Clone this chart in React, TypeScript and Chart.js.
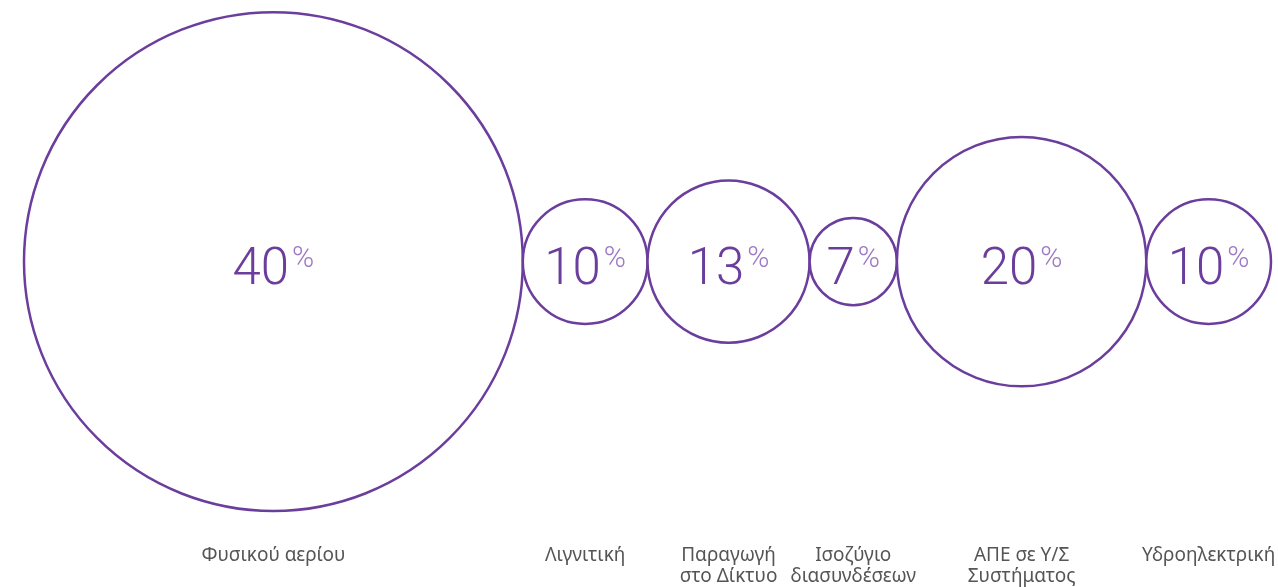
import React, { useEffect, useRef } from "react";
import { Chart, registerables } from "chart.js";

Chart.register(...registerables);

// Data
const categories: string[][] = [
  ["Φυσικού αερίου"],
  ["Λιγνιτική"],
  ["Παραγωγή", "στο Δίκτυο"],
  ["Ισοζύγιο", "διασυνδέσεων"],
  ["ΑΠΕ σε Υ/Σ", "Συστήματος"],
  ["Υδροηλεκτρική"],
];
const shares: number[] = [40, 10, 13, 7, 20, 10];

const PURPLE = "#6b3d9c";
const PURPLE_LIGHT = "#9d78c4";
const NUM_FONT = "300 51px Roboto";
const PCT_FONT = "300 30px Roboto";

export default function App() {
  const canvasRef = useRef<HTMLCanvasElement | null>(null);

  useEffect(() => {
    if (!canvasRef.current) return;
    // bubbles sit side by side: each centre is the running total of diameters plus its own radius
    const centres: number[] = [];
    let acc = 0;
    shares.forEach((s) => {
      centres.push(acc + s);
      acc += 2 * s;
    });
    const total = acc;

    const pctPlugin = {
      id: "pctLabels",
      afterDatasetsDraw(chart: any) {
        const ctx = chart.ctx;
        const meta = chart.getDatasetMeta(0);
        ctx.save();
        meta.data.forEach((el: any, i: number) => {
          const num = String(shares[i]);
          ctx.font = NUM_FONT;
          const w1 = ctx.measureText(num).width;
          ctx.font = PCT_FONT;
          const w2 = ctx.measureText("%").width;
          const gap = 3;
          const start = el.x - (w1 + gap + w2) / 2;
          ctx.textAlign = "left";
          ctx.textBaseline = "alphabetic";
          ctx.fillStyle = PURPLE;
          ctx.font = NUM_FONT;
          ctx.fillText(num, start, el.y + 22);
          ctx.fillStyle = PURPLE_LIGHT;
          ctx.font = PCT_FONT;
          ctx.fillText("%", start + w1 + gap, el.y + 5);
        });
        ctx.restore();
      },
    };

    const chart = new Chart(canvasRef.current, {
      type: "bubble",
      data: {
        datasets: [
          {
            data: centres.map((c) => ({ x: c, y: 0, r: 1 })),
            backgroundColor: "#ffffff",
            borderColor: PURPLE,
            borderWidth: 2.5,
            hoverBorderWidth: 2.5,
            clip: false as any,
          } as any,
        ],
      },
      options: {
        animation: false,
        responsive: true,
        maintainAspectRatio: false,
        events: [],
        layout: { autoPadding: false, padding: { left: 24, right: 7, top: 14, bottom: 0 } },
        plugins: {
          legend: { display: false },
          tooltip: { enabled: false },
        },
        scales: {
          x: {
            type: "linear",
            min: 0,
            max: total,
            grid: { display: false, drawTicks: true, tickLength: 36 },
            border: { display: false },
            afterBuildTicks: (scale: any) => {
              scale.ticks = centres.map((c) => ({ value: c }));
            },
            ticks: {
              autoSkip: false,
              maxRotation: 0,
              minRotation: 0,
              padding: 0,
              color: "#555555",
              font: { family: "'Noto Sans', sans-serif", size: 19, lineHeight: 1.1 },
              callback: (_v: any, i: number) => categories[i],
            },
          },
          y: {
            display: false,
            min: -1,
            max: 1,
          },
        },
      },
      plugins: [pctPlugin],
    });

    // bubble radius (pixels) taken from the x scale so neighbouring bubbles touch
    const xs: any = chart.scales.x;
    (chart.data.datasets[0].data as any[]).forEach((d, i) => {
      d.r = xs.getPixelForValue(shares[i]) - xs.getPixelForValue(0);
    });
    chart.update();

    return () => chart.destroy();
  }, []);

  return (
    <div style={{ position: "fixed", left: 0, top: 0, width: 1278, height: 587, background: "#fff" }}>
      <canvas ref={canvasRef} />
    </div>
  );
}
